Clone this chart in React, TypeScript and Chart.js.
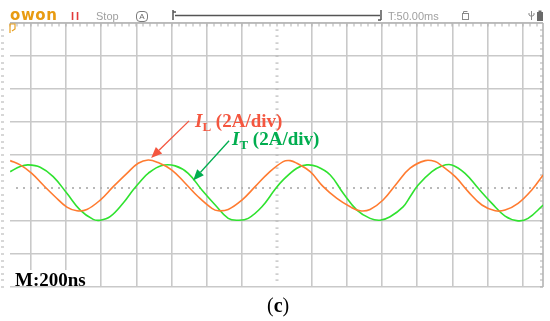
import React, { useEffect, useRef } from "react";
import { Chart, registerables } from "chart.js";

Chart.register(...registerables);

// ---- data (time in ns, t = 0 at the trigger / centre line; current in A) ----
const ilTime = [
  -1519, -1462, -1396, -1331, -1263, -1196, -1139, -1082, -1006, -932, -854, -790, -733, -676,
  -598, -522, -448, -370, -334, -277, -199, -124, -50, 36, 76, 114, 190, 264, 342, 418, 474,
  531, 605, 684, 759, 845, 902, 940, 1016, 1090, 1168, 1244, 1300, 1374, 1452, 1517,
];
const ilCurrent = [
  1.66, 1.4, 0.89, 0.18, -0.53, -1.16, -1.38, -1.3, -0.73, 0.08, 0.89, 1.5, 1.7, 1.54,
  1.09, 0.29, -0.53, -1.23, -1.38, -1.3, -0.73, 0.08, 0.89, 1.6, 1.66, 1.5, 0.99, 0.08, -0.63, -1.14, -1.38,
  -1.3, -0.73, 0.29, 1.2, 1.66, 1.6, 1.34, 0.69, -0.22, -1.03, -1.38, -1.34, -0.93, -0.12, 0.79,
];
const itTime = [
  -1519, -1462, -1417, -1348, -1274, -1196, -1120, -1046, -1006, -950, -875, -819, -779, -733,
  -655, -579, -505, -427, -351, -277, -220, -163, -85, -10, 36, 114, 171, 228, 304, 378, 456,
  531, 588, 645, 719, 759, 805, 883, 940, 997, 1072, 1147, 1225, 1300, 1374, 1431, 1517,
];
const itCurrent = [
  0.99, 1.3, 1.4, 1.26, 0.69, -0.32, -1.34, -1.9, -1.95, -1.74, -0.91, -0.12, 0.38, 0.89,
  1.36, 1.34, 0.89, -0.12, -1.03, -1.84, -1.95, -1.84, -1.14, -0.08, 0.49, 1.2, 1.4, 1.3, 0.79, -0.32, -1.34,
  -1.84, -1.95, -1.74, -1.14, -0.53, 0.18, 0.99, 1.34, 1.4, 0.89, -0.02, -0.93, -1.7, -1.99, -1.84, -1.03,
];

// grid: 200 ns/div horizontally, 2 A/div vertically
const timeTicks = [-1400, -1200, -1000, -800, -600, -400, -200, 0, 200, 400, 600, 800, 1000, 1200, 1400];
const currentTicks = [-6, -4, -2, 0, 2, 4, 6, 8, 10];
const timeMin = -1520;
const timeMax = 1516;
const currentMin = -6;
const currentMax = 10;

const IL_COLOR = "#ff7b30";
const IT_COLOR = "#2fe22f";
const IL_TEXT = "#f4563f";
const IT_TEXT = "#00ad4f";
const GRID = "#c9c9c9";

// arrow annotations [time, current]
const ilArrow = { from: [-500, 4.07], to: [-716, 1.82] };
const itArrow = { from: [-272, 2.86], to: [-477, 0.46] };

const SERIF = "'Liberation Serif', 'Times New Roman', serif";
const SANS = "'Liberation Sans', Arial, sans-serif";

function drawArrow(ctx: CanvasRenderingContext2D, x1: number, y1: number, x2: number, y2: number, color: string) {
  const ang = Math.atan2(y2 - y1, x2 - x1);
  const len = 11;
  const half = 4.5;
  const bx = x2 - Math.cos(ang) * len;
  const by = y2 - Math.sin(ang) * len;
  ctx.save();
  ctx.strokeStyle = color;
  ctx.fillStyle = color;
  ctx.lineWidth = 1.3;
  ctx.beginPath();
  ctx.moveTo(x1, y1);
  ctx.lineTo(bx, by);
  ctx.stroke();
  ctx.beginPath();
  ctx.moveTo(x2, y2);
  ctx.lineTo(bx + Math.sin(ang) * half, by - Math.cos(ang) * half);
  ctx.lineTo(bx - Math.sin(ang) * half, by + Math.cos(ang) * half);
  ctx.closePath();
  ctx.fill();
  ctx.restore();
}

const scopePlugin = {
  id: "scopeDecor",
  beforeDatasetsDraw(chart: any) {
    const ctx: CanvasRenderingContext2D = chart.ctx;
    const xs = chart.scales.x;
    const ys = chart.scales.y;
    const { left, right, top, bottom } = chart.chartArea;
    const cx = xs.getPixelForValue(0);
    const cy = ys.getPixelForValue(0);
    ctx.save();
    // dotted centre lines
    ctx.fillStyle = "#b9b9b9";
    for (let t = -1400 - 200; t <= timeMax; t += 40) {
      const px = xs.getPixelForValue(t);
      if (px < left + 3 || px > right - 3) continue;
      ctx.fillRect(Math.round(px) - 1, Math.round(cy) - 1, 2, 2);
    }
    for (let a = currentMin; a <= currentMax; a += 0.4) {
      const py = ys.getPixelForValue(a);
      if (py < top + 2 || py > bottom - 2) continue;
      ctx.fillRect(Math.round(cx) - 1.5, Math.round(py) - 0.5, 3, 1.2);
    }
    // minor ticks on the ruler, left and right edges
    ctx.fillStyle = "#b0b0b0";
    for (let t = -1400 - 200; t <= timeMax; t += 40) {
      const px = xs.getPixelForValue(t);
      if (px < left || px > right) continue;
      ctx.fillRect(Math.round(px) - 0.5, top, 1, 3.5);
    }
    for (let a = currentMin; a <= currentMax; a += 0.4) {
      const py = ys.getPixelForValue(a);
      ctx.fillRect(1, Math.round(py) - 0.5, 3, 1);
      ctx.fillRect(right - 3, Math.round(py) - 0.5, 3, 1);
    }
    // right border and top ruler line
    ctx.strokeStyle = "#b5b5b5";
    ctx.lineWidth = 1.6;
    ctx.beginPath();
    ctx.moveTo(right, top);
    ctx.lineTo(right, bottom);
    ctx.moveTo(left, top);
    ctx.lineTo(right, top);
    ctx.stroke();
    ctx.restore();
  },
  afterDatasetsDraw(chart: any) {
    const ctx: CanvasRenderingContext2D = chart.ctx;
    const xs = chart.scales.x;
    const ys = chart.scales.y;
    const px = (p: number[]) => [xs.getPixelForValue(p[0]), ys.getPixelForValue(p[1])];
    const [a1, b1] = px(ilArrow.from);
    const [a2, b2] = px(ilArrow.to);
    drawArrow(ctx, a1, b1, a2, b2, IL_TEXT);
    const [c1, d1] = px(itArrow.from);
    const [c2, d2] = px(itArrow.to);
    drawArrow(ctx, c1, d1, c2, d2, IT_TEXT);

    // header graphics (time-base bar and status icons)
    ctx.save();
    ctx.strokeStyle = "#555";
    ctx.lineWidth = 1.5;
    ctx.beginPath();
    ctx.moveTo(173, 10);
    ctx.lineTo(173, 20);
    ctx.moveTo(173, 12);
    ctx.lineTo(176, 12);
    ctx.moveTo(175, 15.5);
    ctx.lineTo(380, 15.5);
    ctx.moveTo(381, 10);
    ctx.lineTo(381, 20);
    ctx.moveTo(378, 20);
    ctx.lineTo(381, 20);
    ctx.stroke();
    // clipboard icon
    ctx.strokeStyle = "#8a8a8a";
    ctx.lineWidth = 1;
    ctx.strokeRect(462.5, 13.5, 6, 6);
    ctx.beginPath();
    ctx.moveTo(463.5, 13.5);
    ctx.lineTo(463.5, 11.5);
    ctx.lineTo(467.5, 11.5);
    ctx.stroke();
    // usb
    ctx.strokeStyle = "#8a8a8a";
    ctx.beginPath();
    ctx.moveTo(531.5, 11);
    ctx.lineTo(531.5, 20);
    ctx.moveTo(529, 13);
    ctx.lineTo(529, 15);
    ctx.lineTo(531.5, 16.5);
    ctx.moveTo(534, 13);
    ctx.lineTo(534, 15);
    ctx.lineTo(531.5, 16.5);
    ctx.stroke();
    // battery
    ctx.fillStyle = "#6a6a6a";
    ctx.fillRect(537, 12, 6, 9);
    ctx.fillRect(538.5, 10.5, 3, 1.5);
    // trigger marker
    ctx.strokeStyle = "#e8a020";
    ctx.lineWidth = 1.2;
    ctx.beginPath();
    ctx.moveTo(10, 24);
    ctx.lineTo(15, 24);
    ctx.lineTo(15, 29);
    ctx.lineTo(12, 31);
    ctx.moveTo(10, 24);
    ctx.lineTo(10, 33);
    ctx.stroke();
    ctx.restore();
  },
};

function Txt(props: {
  left: number;
  baseline: number;
  size: number;
  family: string;
  color: string;
  weight?: string | number;
  k?: number;
  style?: React.CSSProperties;
  children: React.ReactNode;
}) {
  const k = props.k ?? 0.8375;
  return (
    <div
      style={{
        position: "absolute",
        left: props.left,
        top: props.baseline - k * props.size,
        fontSize: props.size,
        lineHeight: `${props.size}px`,
        fontFamily: props.family,
        color: props.color,
        fontWeight: props.weight ?? "normal",
        whiteSpace: "nowrap",
        ...props.style,
      }}
    >
      {props.children}
    </div>
  );
}

export default function App() {
  const canvasRef = useRef<HTMLCanvasElement | null>(null);

  useEffect(() => {
    const canvas = canvasRef.current;
    if (!canvas) return;
    const chart = new Chart(canvas, {
      type: "line",
      data: {
        datasets: [
          {
            label: "IL",
            data: ilTime.map((t, i) => ({ x: t, y: ilCurrent[i] })),
            borderColor: IL_COLOR,
            borderWidth: 1.6,
            pointRadius: 0,
            tension: 0.4,
            fill: false,
          },
          {
            label: "IT",
            data: itTime.map((t, i) => ({ x: t, y: itCurrent[i] })),
            borderColor: IT_COLOR,
            borderWidth: 1.6,
            pointRadius: 0,
            tension: 0.4,
            fill: false,
          },
        ],
      },
      options: {
        responsive: false,
        maintainAspectRatio: false,
        devicePixelRatio: 1,
        animation: false,
        layout: { padding: { left: 10, top: 23, right: 7, bottom: 34 } },
        plugins: { legend: { display: false }, tooltip: { enabled: false }, title: { display: false } },
        scales: {
          x: {
            type: "linear",
            min: timeMin,
            max: timeMax,
            afterBuildTicks: (scale: any) => {
              scale.ticks = timeTicks.map((v) => ({ value: v }));
            },
            ticks: { display: false },
            border: { display: false },
            grid: {
              drawTicks: false,
              lineWidth: 1.6,
              color: (c: any) => (c.tick && c.tick.value === 0 ? "rgba(0,0,0,0)" : GRID),
            },
          },
          y: {
            type: "linear",
            min: currentMin,
            max: currentMax,
            afterBuildTicks: (scale: any) => {
              scale.ticks = currentTicks.map((v) => ({ value: v }));
            },
            ticks: { display: false },
            border: { display: false },
            grid: {
              drawTicks: false,
              lineWidth: 1.6,
              color: (c: any) => (c.tick && c.tick.value === 0 ? "rgba(0,0,0,0)" : GRID),
            },
          },
        },
      },
      plugins: [scopePlugin],
    } as any);
    return () => chart.destroy();
  }, []);

  return (
    <div
      style={{
        position: "fixed",
        left: 0,
        top: 0,
        width: 550,
        height: 321,
        background: "#ffffff",
        overflow: "hidden",
      }}
    >
      <canvas ref={canvasRef} width={550} height={321} style={{ position: "absolute", left: 0, top: 0, width: 550, height: 321 }} />

      {/* header */}
      <Txt left={10} baseline={20.5} size={15} family="'DejaVu Sans', sans-serif" weight="bold" color="#e89b12" k={0.846} style={{ letterSpacing: "0.6px" }}>
        owon
      </Txt>
      <Txt left={71} baseline={20} size={11} family={SANS} weight="bold" color="#e23a3a" k={0.8465} style={{ letterSpacing: "2px" }}>
        II
      </Txt>
      <Txt left={96} baseline={20} size={11} family={SANS} color="#a0a0a0" k={0.8465}>
        Stop
      </Txt>
      <div
        style={{
          position: "absolute",
          left: 136,
          top: 11,
          width: 10,
          height: 9,
          border: "1px solid #7a7a7a",
          borderRadius: 4,
          fontFamily: SANS,
          fontSize: 8,
          lineHeight: "9px",
          textAlign: "center",
          color: "#6a6a6a",
        }}
      >
        A
      </div>
      <Txt left={388} baseline={20} size={11} family={SANS} color="#a0a0a0" k={0.8465}>
        T:50.00ms
      </Txt>

      {/* channel labels */}
      <Txt left={195} baseline={127} size={19} family={SERIF} weight="bold" color={IL_TEXT}>
        <i>I</i>
        <span style={{ fontSize: 13, position: "relative", top: 4 }}>L</span> (2A/div)
      </Txt>
      <Txt left={232} baseline={145} size={19} family={SERIF} weight="bold" color={IT_TEXT}>
        <i>I</i>
        <span style={{ fontSize: 13, position: "relative", top: 4 }}>T</span> (2A/div)
      </Txt>

      {/* time base */}
      <div style={{ position: "absolute", left: 12, top: 270, width: 80, height: 16, background: "#fff" }} />
      <Txt left={15} baseline={286} size={19} family={SERIF} weight="bold" color="#000">
        M:200ns
      </Txt>

      {/* caption */}
      <Txt left={267} baseline={311.5} size={20} family={SERIF} color="#000">
        (<b>c</b>)
      </Txt>
    </div>
  );
}
